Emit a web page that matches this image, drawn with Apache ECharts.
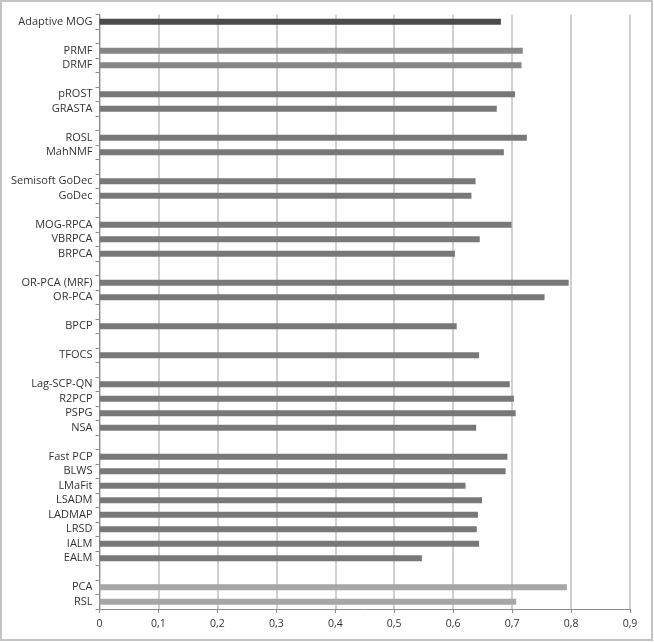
<!DOCTYPE html>
<html lang="en">
<head>
    <meta charset="UTF-8">
    <title>Methods</title>
    <script src="https://cdn.jsdelivr.net/npm/echarts@6/dist/echarts.min.js"></script>
    <style>
        html, body {
            margin: 0;
            padding: 0;
            background: #fff;
        }
        #chart {
            width: 654px;
            height: 642px;
        }
    </style>
</head>
<body>
<div id="chart"></div>
<script>
    // '' = empty spacer row between groups
    var methods = [
        'Adaptive MOG', '',
        'PRMF', 'DRMF', '',
        'pROST', 'GRASTA', '',
        'ROSL', 'MahNMF', '',
        'Semisoft GoDec', 'GoDec', '',
        'MOG-RPCA', 'VBRPCA', 'BRPCA', '',
        'OR-PCA (MRF)', 'OR-PCA', '',
        'BPCP', '',
        'TFOCS', '',
        'Lag-SCP-QN', 'R2PCP', 'PSPG', 'NSA', '',
        'Fast PCP', 'BLWS', 'LMaFit', 'LSADM', 'LADMAP', 'LRSD', 'IALM', 'EALM', '',
        'PCA', 'RSL'
    ];
    var scores = [
        0.681, null,
        0.718, 0.716, null,
        0.705, 0.674, null,
        0.725, 0.686, null,
        0.638, 0.631, null,
        0.699, 0.645, 0.603, null,
        0.796, 0.755, null,
        0.606, null,
        0.644, null,
        0.696, 0.703, 0.706, 0.639, null,
        0.692, 0.689, 0.621, 0.649, 0.642, 0.640, 0.644, 0.547, null,
        0.793, 0.707
    ];
    var xTicks = [0, 0.1, 0.2, 0.3, 0.4, 0.5, 0.6, 0.7, 0.8, 0.9];

    var darkSet = ['Adaptive MOG'];
    var midSet = ['PRMF', 'DRMF'];
    var lightSet = ['PCA', 'RSL'];

    function barColor(name) {
        if (darkSet.indexOf(name) >= 0) return '#4b4b4b';
        if (midSet.indexOf(name) >= 0) return '#868686';
        if (lightSet.indexOf(name) >= 0) return '#a6a6a6';
        return '#787878';
    }

    var barData = scores.map(function (v, i) {
        return {value: v, itemStyle: {color: barColor(methods[i])}};
    });

    var myChart = echarts.init(document.getElementById('chart'));
    var option = {
        animation: false,
        backgroundColor: '#fff',
        graphic: [{
            type: 'rect',
            shape: {x: 1, y: 1, width: 651, height: 639},
            style: {fill: null, stroke: '#c4c4c4', lineWidth: 2},
            silent: true
        }],
        grid: {
            left: 99.5,
            right: 24,
            top: 14.5,
            bottom: 33
        },
        xAxis: {
            type: 'value',
            min: 0,
            max: 0.9,
            interval: 0.1,
            axisLine: {show: true, lineStyle: {color: '#8c8c8c', width: 1}},
            axisTick: {show: true, length: 4, lineStyle: {color: '#8c8c8c'}},
            axisLabel: {
                color: '#333',
                fontFamily: 'Open Sans',
                fontSize: 10.5,
                margin: 10,
                formatter: function (v) {
                    var t = xTicks.filter(function (x) { return Math.abs(x - v) < 1e-9; })[0];
                    return t === undefined ? '' : String(+t.toFixed(1)).replace('.', ',');
                }
            },
            splitLine: {show: true, lineStyle: {color: '#c0c0c0', width: 1.5}}
        },
        yAxis: {
            type: 'category',
            inverse: true,
            data: methods,
            axisLine: {show: true, lineStyle: {color: '#8c8c8c', width: 1}},
            axisTick: {show: true, length: 4, alignWithLabel: false, interval: 0, lineStyle: {color: '#8c8c8c'}},
            axisLabel: {
                interval: 0,
                color: '#333',
                fontFamily: 'Open Sans',
                fontSize: 11,
                margin: 7
            },
            splitLine: {show: false}
        },
        series: [{
            type: 'bar',
            data: barData,
            barWidth: 6,
            silent: true
        }]
    };
    myChart.setOption(option);
</script>
</body>
</html>
